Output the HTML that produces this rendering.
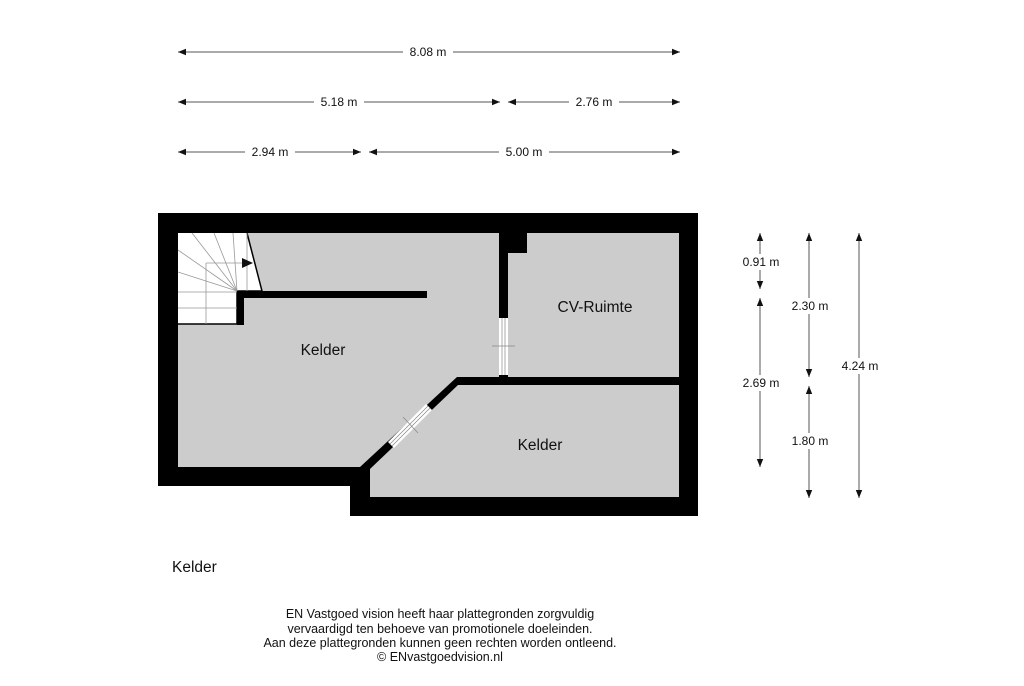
<!DOCTYPE html>
<html><head><meta charset="utf-8"><style>
html,body{margin:0;padding:0;background:#fff;}
svg{display:block;font-family:"Liberation Sans",Arial,sans-serif;}
</style></head><body>
<svg width="1024" height="686" viewBox="0 0 1024 686" xmlns="http://www.w3.org/2000/svg">
<defs>
<marker id="a" viewBox="0 0 10 10" refX="10" refY="5" markerWidth="8" markerHeight="8" orient="auto-start-reverse"><path d="M0,1 L10,5 L0,9 z" fill="#111"/></marker>
</defs>
<g stroke="#555" stroke-width="1" marker-start="url(#a)" marker-end="url(#a)" fill="none">
<line x1="178" y1="52" x2="680" y2="52"/>
<line x1="178" y1="102" x2="500" y2="102"/>
<line x1="508" y1="102" x2="680" y2="102"/>
<line x1="178" y1="152" x2="361" y2="152"/>
<line x1="369" y1="152" x2="680" y2="152"/>
<line x1="760" y1="233" x2="760" y2="289"/>
<line x1="760" y1="298" x2="760" y2="467"/>
<line x1="809" y1="233" x2="809" y2="377"/>
<line x1="809" y1="386" x2="809" y2="498"/>
<line x1="859" y1="233" x2="859" y2="498"/>
</g>
<g font-size="12" fill="#111" text-anchor="middle">
<rect x="403" y="44" width="50" height="16" fill="#fff"/><text x="428" y="56">8.08 m</text>
<rect x="314" y="94" width="50" height="16" fill="#fff"/><text x="339" y="106">5.18 m</text>
<rect x="569" y="94" width="50" height="16" fill="#fff"/><text x="594" y="106">2.76 m</text>
<rect x="245" y="144" width="50" height="16" fill="#fff"/><text x="270" y="156">2.94 m</text>
<rect x="499" y="144" width="50" height="16" fill="#fff"/><text x="524" y="156">5.00 m</text>
<rect x="740" y="254" width="42" height="16" fill="#fff"/><text x="761" y="266">0.91 m</text>
<rect x="740" y="375" width="42" height="16" fill="#fff"/><text x="761" y="387">2.69 m</text>
<rect x="789" y="298" width="42" height="16" fill="#fff"/><text x="810" y="310">2.30 m</text>
<rect x="789" y="433" width="42" height="16" fill="#fff"/><text x="810" y="445">1.80 m</text>
<rect x="838" y="358" width="42" height="16" fill="#fff"/><text x="860" y="370">4.24 m</text>
</g>
<polygon points="158,213 698,213 698,516 350,516 350,486 158,486" fill="#000"/>
<polygon points="178,233 499,233 499,377 457,377 360,467 178,467" fill="#cccccc"/>
<polygon points="508,253 527,253 527,233 679,233 679,377 508,377" fill="#cccccc"/>
<polygon points="458,385 679,385 679,497 370,497 370,469" fill="#cccccc"/>
<rect x="237" y="291" width="190" height="7" fill="#000"/>
<rect x="237" y="291" width="7" height="34" fill="#000"/>
<polygon points="178,233 247,233 262,291 237,291 237,324 178,324" fill="#fff"/>
<polyline points="247,233 262,291 237,291 237,324 178,324" fill="none" stroke="#000" stroke-width="1.5"/>
<g stroke="#999" stroke-width="0.8">
<line x1="237" y1="291" x2="178" y2="272"/>
<line x1="237" y1="291" x2="178" y2="250"/>
<line x1="237" y1="291" x2="192" y2="233"/>
<line x1="237" y1="291" x2="214" y2="233"/>
<line x1="237" y1="291" x2="233" y2="233"/>
<line x1="178" y1="292" x2="237" y2="292"/>
<line x1="178" y1="308" x2="237" y2="308"/>
<line x1="206" y1="324" x2="206" y2="263"/>
<line x1="206" y1="263" x2="243" y2="263"/>
<line x1="247" y1="233" x2="247" y2="291"/>
</g>
<polygon points="242,258 253,263 242,268" fill="#111"/>
<rect x="499" y="318" width="9" height="57" fill="#fff"/>
<g stroke="#888" stroke-width="0.7">
<line x1="502" y1="318" x2="502" y2="375"/><line x1="505" y1="318" x2="505" y2="375"/>
<line x1="492" y1="346" x2="515" y2="346"/>
</g>
<polygon points="388,442 426,404 432,410 394,448" fill="#fff"/>
<g stroke="#888" stroke-width="0.7">
<line x1="390" y1="444" x2="428" y2="406"/><line x1="392" y1="446" x2="430" y2="408"/>
<line x1="403" y1="417" x2="418" y2="433"/>
</g>
<g font-size="15.5" fill="#111" text-anchor="middle">
<text x="323" y="355">Kelder</text>
<text x="595" y="312">CV-Ruimte</text>
<text x="540" y="450">Kelder</text>
</g>
<text x="172" y="572" font-size="15.5" fill="#111">Kelder</text>
<g font-size="12.5" fill="#111" text-anchor="middle">
<text x="440" y="618">EN Vastgoed vision heeft haar plattegronden zorgvuldig</text>
<text x="440" y="633">vervaardigd ten behoeve van promotionele doeleinden.</text>
<text x="440" y="647">Aan deze plattegronden kunnen geen rechten worden ontleend.</text>
<text x="440" y="661">© ENvastgoedvision.nl</text>
</g>
</svg>
</body></html>
